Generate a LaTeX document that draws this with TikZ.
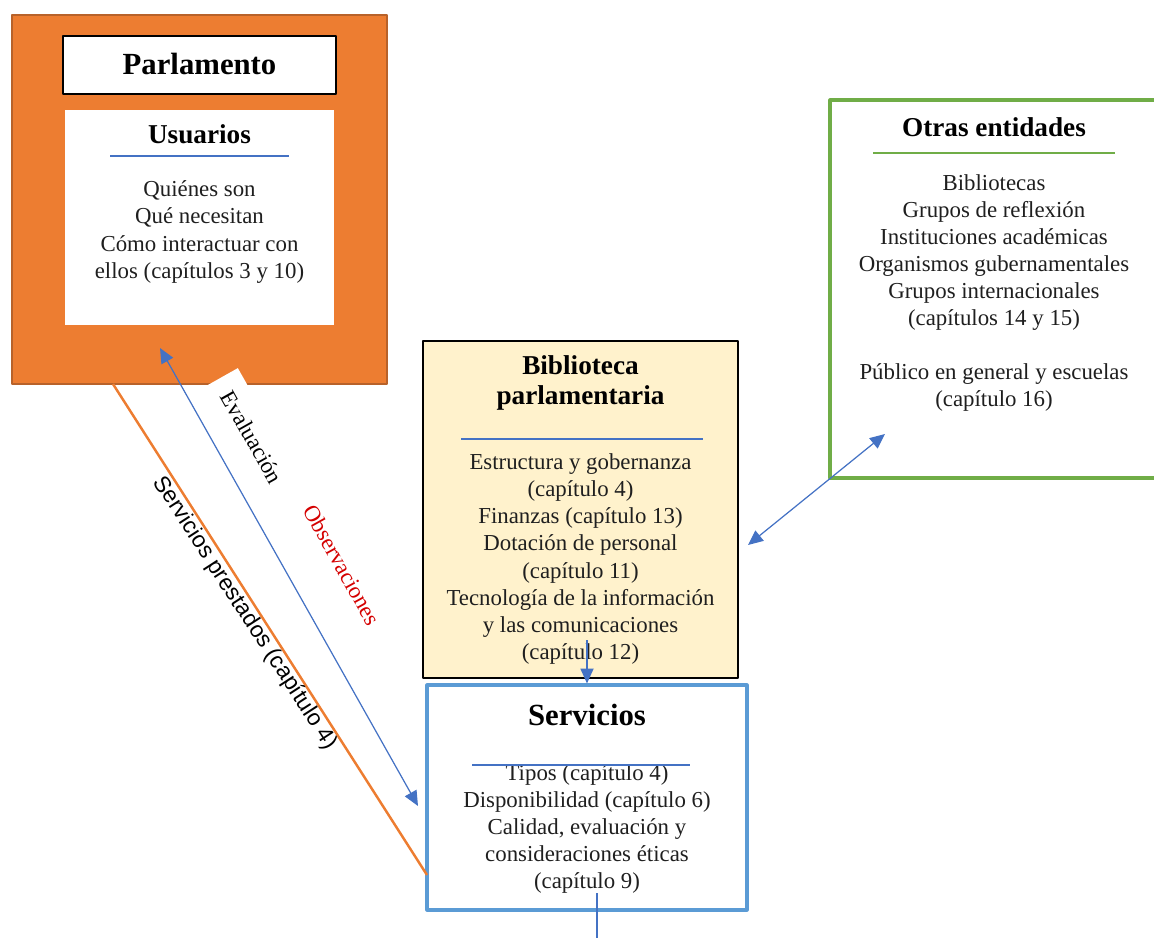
\documentclass[tikz,border=0pt]{standalone}
\usepackage{fontspec}
\setmainfont{Liberation Serif}
\newfontfamily\arialfont{Liberation Sans}
\usetikzlibrary{arrows.meta}
\definecolor{parlorange}{HTML}{ED7D31}
\definecolor{parledge}{HTML}{B8622A}
\definecolor{otrasgreen}{HTML}{70AD47}
\definecolor{servblue}{HTML}{5B9BD5}
\definecolor{linkblue}{HTML}{4472C4}
\definecolor{bibyellow}{HTML}{FFF2CC}
\definecolor{obsred}{HTML}{D40000}

\begin{document}
\begin{tikzpicture}[x=0.02cm,y=-0.02cm, line join=round,
	bodytext/.style={font=\fontsize{13}{15.4}\selectfont, align=center, inner sep=0pt, text=black!88},
	headtext/.style={font=\fontsize{15.5}{17}\selectfont\bfseries, align=center, inner sep=0pt},
	bighead/.style={font=\fontsize{17.5}{20}\selectfont\bfseries, inner sep=0pt},
	boxshape/.style={rectangle, inner sep=0pt},
	underline/.style={linkblue, line width=0.7pt},
	bluearrow/.style={linkblue, line width=0.7pt, -{Triangle[length=8.5pt,width=7.5pt]}},
	twoarrow/.style={linkblue, line width=0.7pt, {Triangle[length=8.5pt,width=7.5pt]}-{Triangle[length=8.5pt,width=7.5pt]}}]
	\useasboundingbox (0,0) rectangle (1154,938);
	% Parlamento
	\node[boxshape, fill=parlorange, draw=parledge, line width=1.5pt, minimum width=7.5cm, minimum height=7.38cm] (parl) at (199.5,199.5) {};
	\node[boxshape, fill=white, draw=black, line width=1.1pt, minimum width=5.46cm, minimum height=1.16cm] (parltitle) at (199.5,65) {};
	\node[bighead] (parlname) at (199.5,64) {Parlamento};
	\node[boxshape, fill=white, minimum width=5.38cm, minimum height=4.3cm] (usu) at (199.5,217.5) {};
	\node[headtext] (usuname) at (199.5,134) {Usuarios};
	\draw[underline] (110,156) -- (289,156);
	\node[bodytext] (usutext) at (199.5,232) {Quiénes son\\Qué necesitan\\Cómo interactuar con\\ellos (capítulos 3 y 10)};
	% Otras entidades
	\node[boxshape, fill=white, draw=otrasgreen, line width=1.8pt, minimum width=6.56cm, minimum height=7.56cm] (otras) at (994,289) {};
	\node[headtext] (otrasname) at (994,127) {Otras entidades};
	\draw[otrasgreen, line width=1.3pt] (873,153) -- (1115,153);
	\node[bodytext] (otrastext) at (994,293) {Bibliotecas\\Grupos de reflexión\\Instituciones académicas\\Organismos gubernamentales\\Grupos internacionales\\(capítulos 14 y 15)\\[15.4pt]Público en general y escuelas\\(capítulo 16)};
	% Biblioteca parlamentaria
	\node[boxshape, fill=bibyellow, draw=black, line width=0.9pt, minimum width=6.3cm, minimum height=6.74cm] (bib) at (580.5,509.5) {};
	\node[headtext] (bibname) at (580.5,383) {Biblioteca\\parlamentaria};
	\draw[underline] (461,439) -- (703,439);
	\node[bodytext] (bibtext) at (580.5,559) {Estructura y gobernanza\\(capítulo 4)\\Finanzas (capítulo 13)\\Dotación de personal\\(capítulo 11)\\Tecnología de la información\\y las comunicaciones\\(capítulo 12)};
	% Servicios
	\node[boxshape, fill=white, draw=servblue, line width=1.8pt, minimum width=6.4cm, minimum height=4.5cm] (serv) at (587,797.5) {};
	\node[bighead] (servname) at (587,715) {Servicios};
	\node[bodytext] (servtext) at (587,829) {Tipos (capítulo 4)\\Disponibilidad (capítulo 6)\\Calidad, evaluación y\\consideraciones éticas\\(capítulo 9)};
	\draw[underline] (472,765) -- (690,765);
	% conectores
	\coordinate (bibend) at (587,640);
	\coordinate (servend) at (597,893);
	\coordinate (servout) at (597,938);
	\coordinate (bibside) at (748,545);
	\coordinate (otrasin) at (885,434);
	\coordinate (evaltop) at (160,348);
	\coordinate (evalbot) at (418,806);
	\coordinate (prestop) at (113,384);
	\coordinate (presbot) at (427,875);
	\draw[bluearrow] (bibend) -- (serv.north);
	\draw[underline] (servend) -- (servout);
	\draw[twoarrow] (bibside) -- (otrasin);
	\node[boxshape, fill=white, rotate=-60.6, minimum width=2.68cm, minimum height=0.86cm, font=\fontsize{13}{15}\selectfont] (evalname) at (252,437) {Evaluación};
	\draw[twoarrow] (evaltop) -- (evalbot);
	\draw[parlorange, line width=1.4pt] (prestop) -- (presbot);
	\node[rotate=-61, text=obsred, inner sep=0pt, font=\fontsize{13}{15}\selectfont] (obsname) at (342,565) {Observaciones};
	\node[rotate=-57, inner sep=0pt, font=\arialfont\fontsize{13}{15}\selectfont] (presname) at (245,613) {Servicios prestados (capítulo 4)};
\end{tikzpicture}
\end{document}
